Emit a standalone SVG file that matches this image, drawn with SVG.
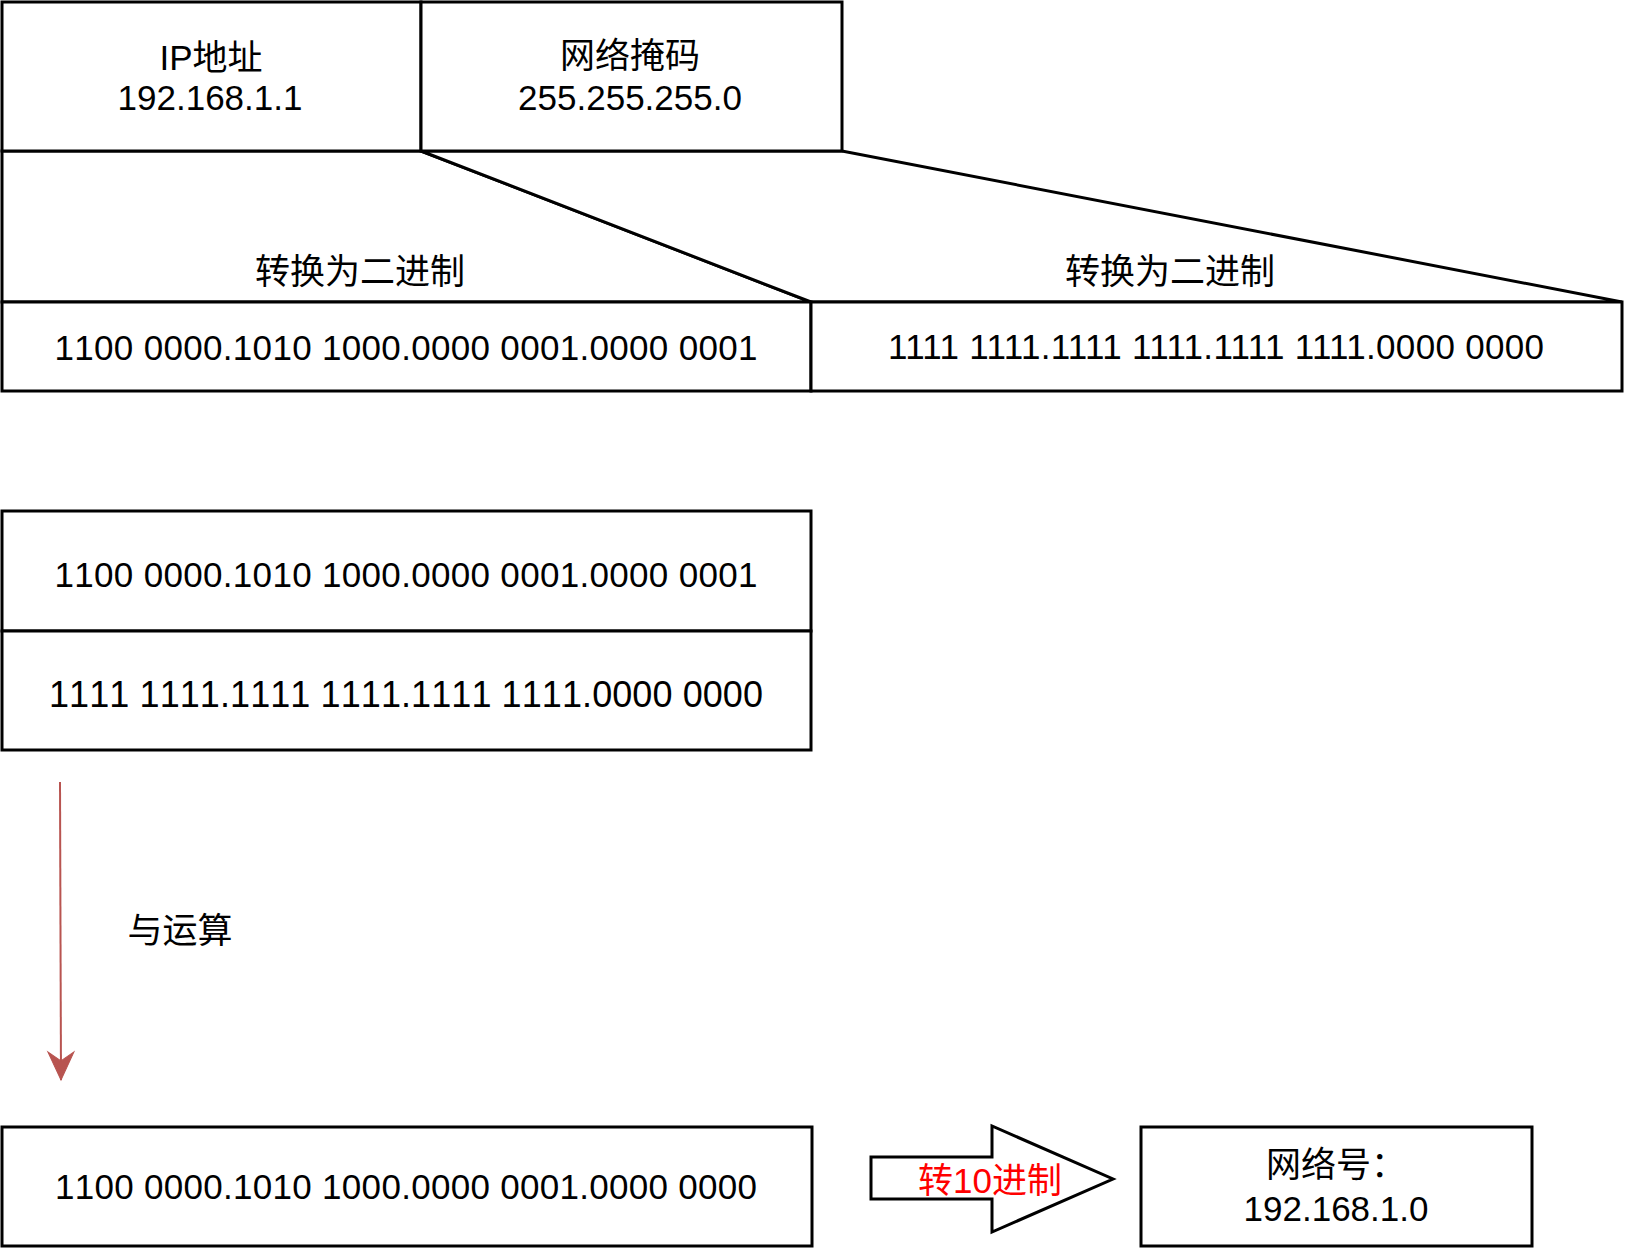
<svg xmlns="http://www.w3.org/2000/svg" width="1626" height="1248" viewBox="0 0 1626 1248">
<style>
.box{fill:#fff;stroke:#000;stroke-width:3}
.t{font-family:"Liberation Sans","Noto Sans CJK SC",sans-serif;font-size:35px;fill:#000;text-anchor:middle;font-kerning:none}
.red{fill:#ff0000}
</style>
<defs>
<marker id="ah" markerUnits="userSpaceOnUse" viewBox="-30 -15 32 30" markerWidth="32" markerHeight="30" refX="0" refY="0" orient="auto">
<path d="M0,0 L-28,-13 L-19,0 L-28,13 Z" fill="#b85450" stroke="#b85450" stroke-width="1"/>
</marker>
</defs>
<rect width="1626" height="1248" fill="#fff"/>
<g id="trap-ip"><polygon class="box" points="2,151 421,151 811,302 2,302"/><text class="t" x="360" y="284">转换为二进制</text></g>
<g id="trap-mask"><polygon class="box" points="421,151 842,151 1622,302 811,302"/><text class="t" x="1170" y="284">转换为二进制</text></g>
<g id="ip"><rect class="box" x="2" y="2" width="419" height="149"/><text class="t" x="211" y="70">IP地址</text><text class="t" x="210" y="110">192.168.1.1</text></g>
<g id="mask"><rect class="box" x="421" y="2" width="421" height="149"/><text class="t" x="630" y="68">网络掩码</text><text class="t" x="630" y="110">255.255.255.0</text></g>
<g id="ip-bin"><rect class="box" x="2" y="302" width="809" height="89"/><text class="t" x="406" y="360" textLength="703" lengthAdjust="spacing">1100 0000.1010 1000.0000 0001.0000 0001</text></g>
<g id="mask-bin"><rect class="box" x="811" y="302" width="811" height="89"/><text class="t" x="1216" y="359" textLength="656" lengthAdjust="spacing" style="font-kerning:normal">1111 1111.1111 1111.1111 1111.0000 0000</text></g>
<g id="and-ip"><rect class="box" x="2" y="511" width="809" height="120"/><text class="t" x="406" y="587" textLength="703" lengthAdjust="spacing">1100 0000.1010 1000.0000 0001.0000 0001</text></g>
<g id="and-mask"><rect class="box" x="2" y="631" width="809" height="119"/><text class="t" x="406" y="707" style="font-size:36px" textLength="714" lengthAdjust="spacing">1111 1111.1111 1111.1111 1111.0000 0000</text></g>
<g id="connectors">
<line x1="60" y1="782" x2="61" y2="1080" stroke="#b85450" stroke-width="2" marker-end="url(#ah)"/>
</g>
<g id="and-label"><text class="t" x="180" y="943">与运算</text></g>
<g id="result-bin"><rect class="box" x="2" y="1127" width="810" height="119"/><text class="t" x="406" y="1199" textLength="702" lengthAdjust="spacing">1100 0000.1010 1000.0000 0001.0000 0000</text></g>
<g id="to-decimal"><polygon class="box" points="871,1157 992,1157 992,1126 1113,1179 992,1232 992,1199 871,1199"/><text class="t red" x="990" y="1193">转10进制</text></g>
<g id="network"><rect class="box" x="1141" y="1127" width="391" height="119"/><text class="t" x="1336" y="1177">网络号：</text><text class="t" x="1336" y="1221">192.168.1.0</text></g>
</svg>
